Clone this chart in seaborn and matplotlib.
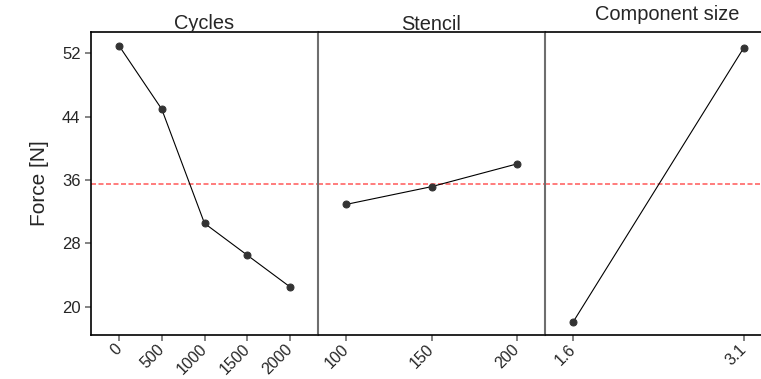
import matplotlib
matplotlib.use("Agg")
import matplotlib.pyplot as plt
import seaborn as sns
import numpy as np

# ---- data ----
cycles = [0, 500, 1000, 1500, 2000]
cycles_force = [52.93, 44.93, 30.54, 26.53, 22.53]
stencil = [100, 150, 200]
stencil_force = [32.93, 35.16, 38.02]
comp_size = [1.6, 3.1]
comp_force = [18.11, 52.68]
grand_mean = 35.46
panel_titles = ["Cycles", "Stencil", "Component size"]
y_ticks = [20, 28, 36, 44, 52]
y_label = "Force [N]"

sns.set_theme(style="white")
plt.rcParams['font.family'] = ['Liberation Sans', 'DejaVu Sans']

W, H = 761, 379
fig = plt.figure(figsize=(W / 100, H / 100), dpi=100)

top_px, bot_px = 32, 335
pw = 227
lefts = [91, 318, 545]
ylim = (16.47, 54.65)

panels = [
    (cycles, cycles_force, (-327, 2327), [str(v) for v in cycles]),
    (stencil, stencil_force, (83.4, 216.6), [str(v) for v in stencil]),
    (comp_size, comp_force, (1.353, 3.347), [str(v) for v in comp_size]),
]
title_pos = [(0.5, 3), (0.5, 2), (0.537, 12)]

gray = "#6e6e6e"
for i, (xs, ys, xl, labels) in enumerate(panels):
    ax = fig.add_axes([lefts[i] / W, (H - bot_px) / H, pw / W, (bot_px - top_px) / H])
    ax.axhline(grand_mean, color="#ff6666", lw=1.2, dashes=(3, 1.5), zorder=1)
    sns.lineplot(x=xs, y=ys, ax=ax, color="black", lw=0.8, marker="o",
                 markersize=5, markerfacecolor="#333333",
                 markeredgecolor="#333333", zorder=3)
    ax.set_xlim(*xl)
    ax.set_ylim(*ylim)
    ax.set_xticks(xs)
    ax.set_xticklabels(labels, rotation=45, ha="right", va="center",
                       rotation_mode="anchor", fontsize=11.5)
    ax.tick_params(axis="x", bottom=True, length=4.5, width=1.2, color=gray, pad=4)
    for s in ax.spines.values():
        s.set_linewidth(1.2)
        s.set_color("black")
    ax.spines["right"].set_visible(False)
    if i == 0:
        ax.set_yticks(y_ticks)
        ax.set_yticklabels([str(v) for v in y_ticks], fontsize=12)
        ax.tick_params(axis="y", left=True, length=4.5, width=1.2, color=gray, pad=3)
        ax.set_ylabel(y_label, fontsize=15, labelpad=9)
    else:
        ax.set_yticks([])
        ax.spines["left"].set_color(gray)
        ax.spines["left"].set_linewidth(1.5)
    tx, tpad = title_pos[i]
    ax.text(tx, 1 + tpad / (bot_px - top_px), panel_titles[i], transform=ax.transAxes,
            ha="center", va="baseline", fontsize=14.4)
    ax.set_xlabel("")

fig.savefig("out.png", dpi=100)
